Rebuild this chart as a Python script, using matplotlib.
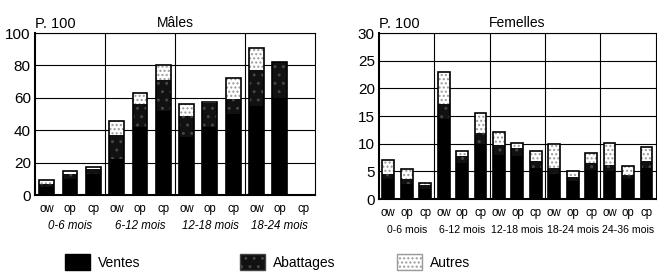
import matplotlib.pyplot as plt
from matplotlib.patches import Patch

plt.rcParams['font.family'] = ['Liberation Sans', 'DejaVu Sans']

#### Data

sub = ["ow", "op", "cp"]

m_groups = ["0-6 mois", "6-12 mois", "12-18 mois", "18-24 mois"]
m_ventes = [5, 10, 13, 22, 42, 52, 36, 42, 50, 55, 60, 0]
m_abatt = [2, 3, 3, 15, 14, 19, 13, 15, 9, 22, 22, 0]
m_autres = [2, 2, 1, 9, 7, 9, 7, 0.5, 13, 14, 0, 0]

f_groups = ["0-6 mois", "6-12 mois", "12-18 mois", "18-24 mois", "24-36 mois"]
f_ventes = [3.6, 2.8, 1.8, 14.5, 6.5, 10.0, 8.0, 7.8, 5.6, 4.6, 3.2, 5.3, 5.0, 3.6, 5.6]
f_abatt = [1.0, 0.9, 0.7, 2.7, 1.2, 1.9, 1.7, 1.4, 1.2, 1.0, 0.8, 1.2, 1.2, 0.7, 1.2]
f_autres = [2.5, 1.8, 0.4, 5.7, 0.9, 3.6, 2.4, 1.0, 1.8, 4.3, 1.1, 1.9, 4.0, 1.7, 2.6]

#### Drawing

def draw(ax, groups, ventes, abatt, autres, ymax, step, title, italic, gsize):
    n = len(ventes)
    x = list(range(n))
    w = 0.64
    ax.bar(x, ventes, width=w, color="black", lw=0, zorder=3)
    ax.bar(x, abatt, bottom=ventes, width=w, color="#111111", hatch="..",
           edgecolor="#444444", lw=0, zorder=3)
    bot = [a + b for a, b in zip(ventes, abatt)]
    ax.bar(x, autres, bottom=bot, width=w, color="white", hatch="....",
           edgecolor="#9a9a9a", lw=0, zorder=3)
    tot = [a + b for a, b in zip(bot, autres)]
    ax.bar(x, tot, width=w, fill=False, edgecolor="black", lw=1.2, zorder=4)

    ax.set_xlim(-0.5, n - 0.5)
    ax.set_ylim(0, ymax)
    ax.set_yticks(range(0, ymax + 1, step))
    ax.tick_params(axis="y", length=0, labelsize=11, pad=3)
    ax.tick_params(axis="x", length=0, labelsize=8.3, pad=6)
    ax.set_xticks(x)
    ax.set_xticklabels(sub * len(groups))
    ax.yaxis.grid(True, color="black", lw=0.8, zorder=1)
    for g in range(1, len(groups)):
        ax.axvline(g * 3 - 0.5, color="black", lw=0.8, zorder=1)
    for s in ax.spines.values():
        s.set_linewidth(0.8)
    ax.spines["left"].set_linewidth(1.5)
    ax.spines["bottom"].set_linewidth(1.5)
    for g, lab in enumerate(groups):
        ax.text(g * 3 + 1, -0.155 * ymax, lab, ha="center", va="top",
                fontsize=gsize, style="italic" if italic else "normal",
                transform=ax.transData, clip_on=False)
    ax.text(0.0, 1.01, "P. 100", transform=ax.transAxes, ha="left",
            va="bottom", fontsize=10.5)
    ax.text(0.5, 1.02, title, transform=ax.transAxes, ha="center",
            va="bottom", fontsize=10)


fig = plt.figure(figsize=(6.57, 2.73), dpi=100)
ax1 = fig.add_axes([0.0533, 0.2857, 0.426, 0.593])
ax2 = fig.add_axes([0.577, 0.271, 0.421, 0.608])

draw(ax1, m_groups, m_ventes, m_abatt, m_autres, 100, 20, "Mâles", True, 8.3)
draw(ax2, f_groups, f_ventes, f_abatt, f_autres, 30, 5, "Femelles", False, 7.6)

handles = [Patch(facecolor="black", edgecolor="black"),
           Patch(facecolor="#111111", hatch="..", edgecolor="#444444"),
           Patch(facecolor="white", hatch="....", edgecolor="#9a9a9a")]
labels = ["Ventes", "Abattages", "Autres"]
xs = [0.099, 0.365, 0.604]
for h, lab, xx in zip(handles, labels, xs):
    fig.legend([h], [lab], loc="center left", bbox_to_anchor=(xx, 0.04),
               frameon=False, fontsize=10, handlelength=1.8, handleheight=1.3,
               borderpad=0, borderaxespad=0, handletextpad=0.6)

fig.savefig("out.png", dpi=100)
